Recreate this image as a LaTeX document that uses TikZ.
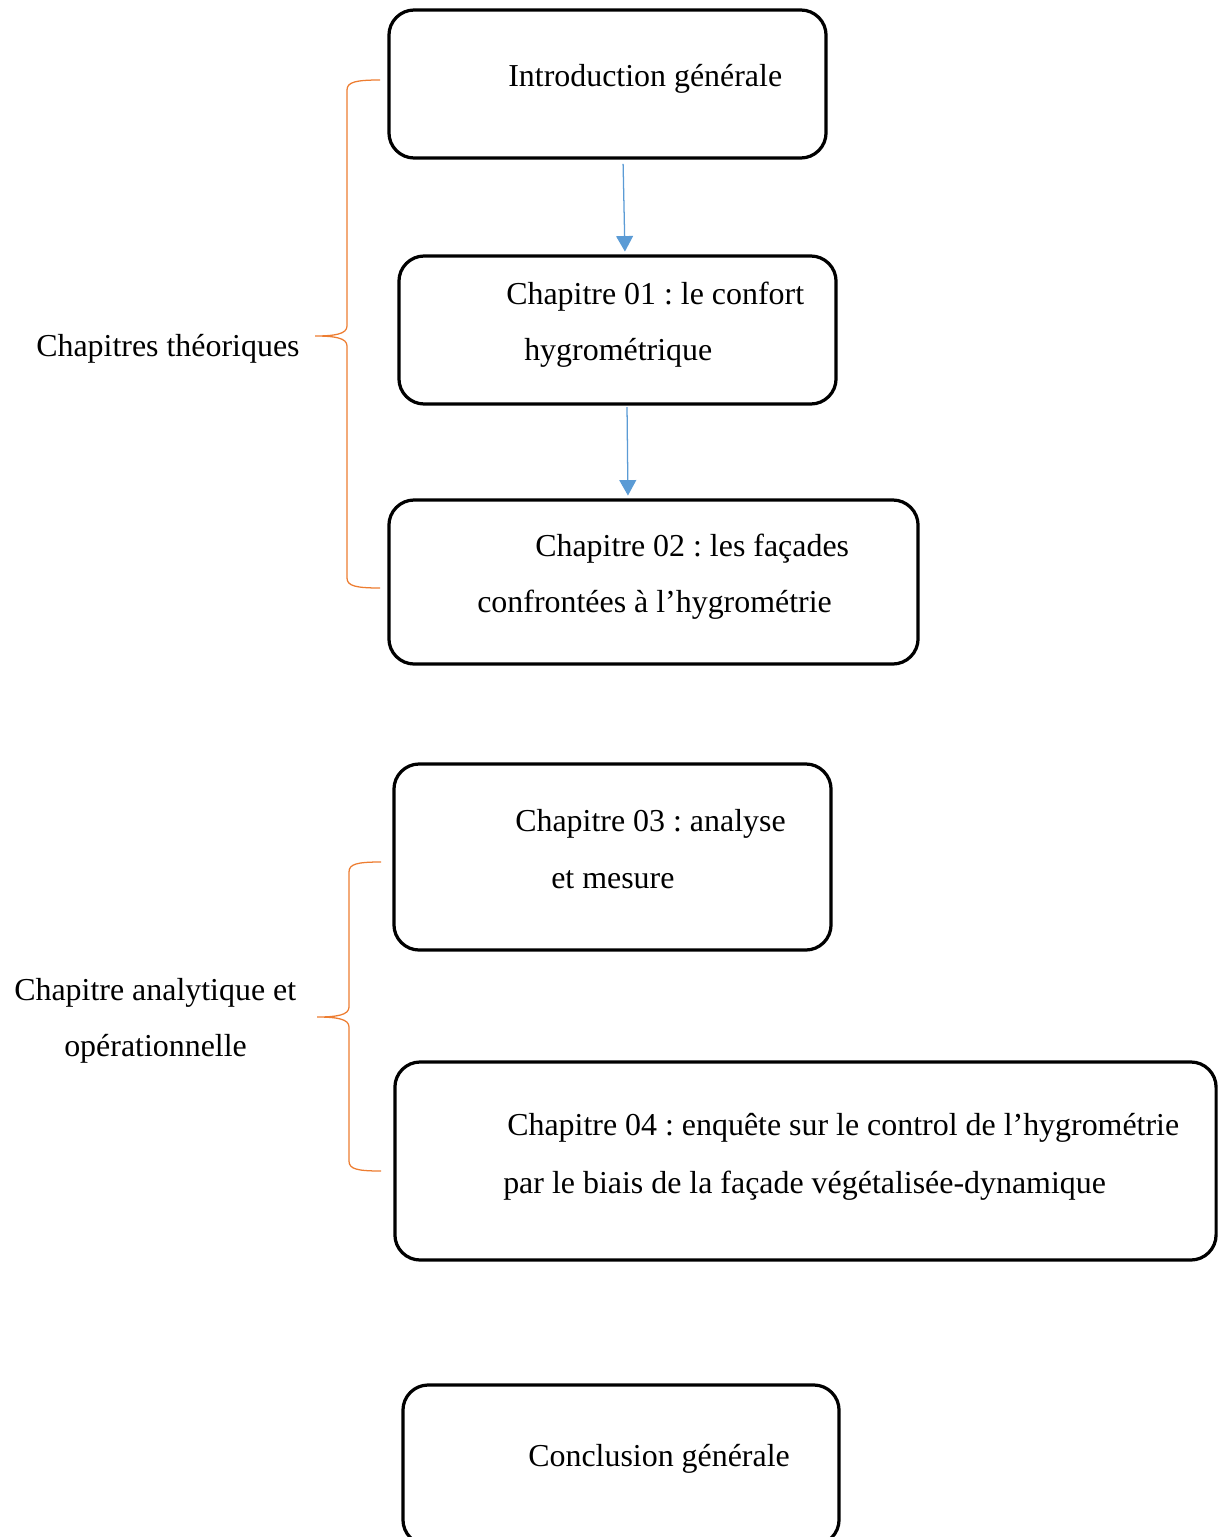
\documentclass[tikz,border=0pt]{standalone}
\usepackage{fontspec}
\setmainfont{Liberation Serif}
\usetikzlibrary{arrows.meta}
\definecolor{flowblue}{HTML}{5B9BD5}
\definecolor{braceorange}{HTML}{ED7D31}
\frenchspacing
\tikzset{
  box/.style={draw=black,line width=2.3pt,rounded corners=18pt,minimum width=10.925cm,
    minimum height=3.7cm,inner sep=0pt},
  txt/.style={anchor=base west,inner sep=0pt},
  flow/.style={-{Triangle[length=11pt,width=12pt]},line width=0.9pt,draw=flowblue},
  curly/.style={draw=braceorange,line width=0.9pt}
}
\begin{document}
\begin{tikzpicture}[x=0.025cm,y=-0.025cm,font=\fontsize{22.7}{39.8}\selectfont]
  \useasboundingbox (0,0) rectangle (1219,1537);
  \clip (0,0) rectangle (1219,1537);
  \node[box] (intro) at (607.5,84) {};
  \node[txt] (introtxt) at (508,87) {Introduction générale};
  \node[box] (ch1) at (617.5,330) {};
  \node[txt] (ch1a) at (506,304) {Chapitre 01 : le confort};
  \node[txt] (ch1b) at (524,360) {hygrométrique};
  \node[box,minimum width=13.225cm,minimum height=4.1cm] (ch2) at (653.5,582) {};
  \node[txt] (ch2a) at (535,556) {Chapitre 02 : les façades};
  \node[txt] (ch2b) at (477,612) {confrontées à l’hygrométrie};
  \node[box,minimum height=4.65cm] (ch3) at (612.5,857) {};
  \node[txt] (ch3a) at (515,831) {Chapitre 03 : analyse};
  \node[txt] (ch3b) at (551,888) {et mesure};
  \node[box,minimum width=20.525cm,minimum height=4.95cm] (ch4) at (805.5,1161) {};
  \node[txt] (ch4a) at (507,1135) {Chapitre 04 : enquête sur le control de l’hygrométrie};
  \node[txt] (ch4b) at (503,1193) {par le biais de la façade végétalisée-dynamique};
  \node[box,minimum width=10.9cm,minimum height=4cm] (concl) at (621,1465) {};
  \node[txt] (concltxt) at (528,1466) {Conclusion générale};
  \draw[flow,shorten <=3pt,shorten >=2pt] ([xshift=0.3875cm]intro.south) -- ([xshift=0.1875cm]ch1.north);
  \draw[flow,shorten <=1pt,shorten >=2pt] ([xshift=0.2375cm]ch1.south) -- ([xshift=-0.6375cm]ch2.north);

  % braces
  \draw[curly] (380,80) .. controls (356,80) and (347,82) .. (347,90) -- (347,326)
    .. controls (347,334) and (335,336) .. (315,336) .. controls (335,336) and (347,338) .. (347,346)
    -- (347,578) .. controls (347,586) and (356,588) .. (380,588);
  \node[txt] (theo) at (36,356) {Chapitres théoriques};
  \draw[curly] (381,862) .. controls (357,862) and (349,864) .. (349,872) -- (349,1007)
    .. controls (349,1015) and (337,1017) .. (317,1017) .. controls (337,1017) and (349,1019) .. (349,1027)
    -- (349,1161) .. controls (349,1169) and (357,1171) .. (381,1171);
  \node[txt] (ana) at (14,1000) {Chapitre analytique et};
  \node[txt] (op) at (64,1056) {opérationnelle};
\end{tikzpicture}
\end{document}
